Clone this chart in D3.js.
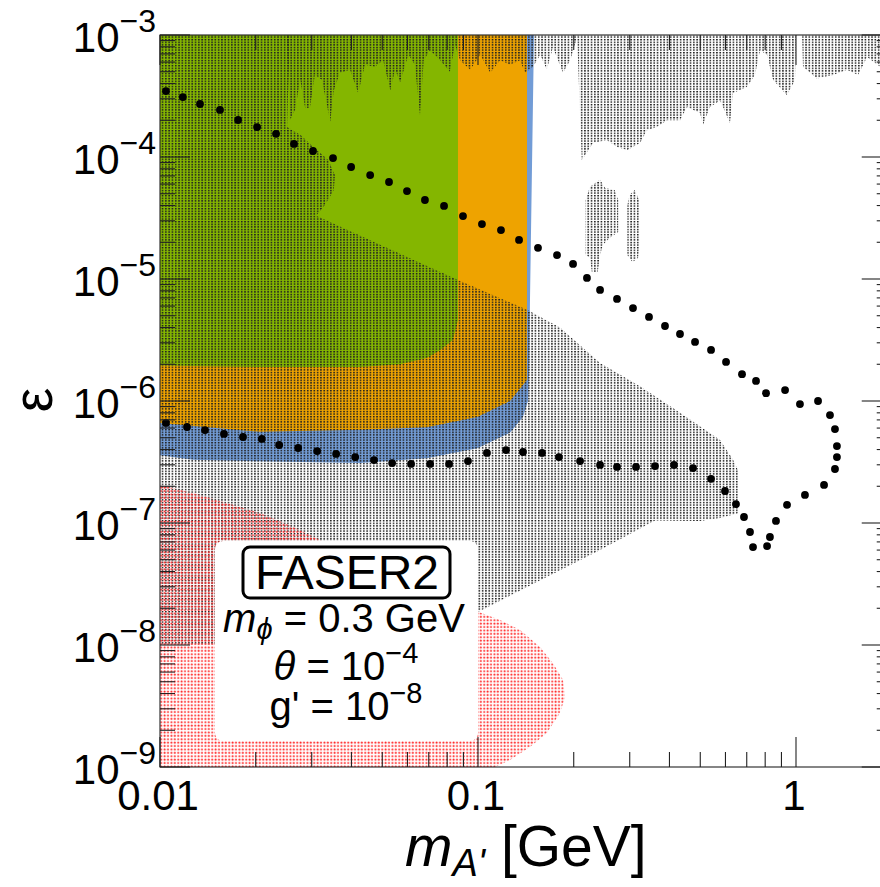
<!doctype html>
<html>
<head>
<script src="https://d3js.org/d3.v7.min.js"></script>
<style>
  body { margin: 0; background: #fff; }
  svg { font-family: "Liberation Sans", Arial, Helvetica, sans-serif; }
</style>
</head>
<body>
<svg id="chart" width="880" height="887"></svg>
<script>
// axis ranges
var massDomain = [0.01, 2];      // m_A' [GeV]
var epsDomain = [1e-9, 1e-3];    // epsilon
var xLabelTicks = [0.01, 0.1, 1];
var xLabelText = ["0.01", "0.1", "1"];
var yLabelTicks = [1e-3, 1e-4, 1e-5, 1e-6, 1e-7, 1e-8, 1e-9];
var yLabelExp = ["\u22123", "\u22124", "\u22125", "\u22126", "\u22127", "\u22128", "\u22129"];

// filled exclusion regions, [mass, epsilon]
var blueRegion = [[0.01,1e-3],[0.150,1e-3],[0.1457,6.7e-6],[0.145,1.9e-6],[0.1436,1.0e-6],[0.1385,7.4e-7],
  [0.126,5.5e-7],[0.0995,4.1e-7],[0.069,3.4e-7],[0.0426,3.1e-7],[0.0206,3.2e-7],[0.0127,3.3e-7],[0.01,3.6e-7]];
var orangeRegion = [[0.01,1e-3],[0.1426,1e-3],[0.1426,1.49e-6],[0.1385,1.35e-6],[0.126,1.0e-6],[0.0995,7.4e-7],
  [0.069,6.1e-7],[0.0426,5.8e-7],[0.0206,5.6e-7],[0.01,6.6e-7]];
var greenRegion = [[0.01,1e-3],[0.0865,1e-3],[0.0865,4.6e-6],[0.0834,3.16e-6],[0.076,2.6e-6],[0.069,2.25e-6],
  [0.0569,2.0e-6],[0.0426,1.9e-6],[0.0206,1.9e-6],[0.01,1.95e-6]];

// grey dotted region (main body, top band, two islands)
var greyMain = [[0.01,1e-3],[0.0256,1e-3],[0.0251,1.76e-4],[0.0276,1.52e-4],[0.0307,1.18e-4],[0.0338,9.45e-5],
  [0.0355,7.1e-5],[0.0352,5.37e-5],[0.033,4.04e-5],[0.031,3.3e-5],[0.0865,9.8e-6],[0.1426,5.6e-6],[0.181,4.0e-6],
  [0.242,2.05e-6],[0.323,1.32e-6],[0.432,8.0e-7],[0.577,4.8e-7],[0.634,3.3e-7],[0.657,2.7e-7],[0.657,1.2e-7],
  [0.577,1.1e-7],[0.499,1.04e-7],[0.379,1.05e-7],[0.36,1.05e-7],[0.242,6.0e-8],[0.157,3.4e-8],[0.1015,1.9e-8],
  [0.098,1.85e-8],[0.0147,1.0e-8],[0.01,1.0e-8]];
var greyTop = [[0.0251,1e-3],[0.0256,2.0e-4],[0.0266,2.43e-4],[0.0276,4.3e-4],[0.0286,2.52e-4],[0.0296,2.52e-4],
  [0.0307,4.7e-4],[0.0323,4.3e-4],[0.0343,1.94e-4],[0.0352,3.5e-4],[0.0368,4.9e-4],[0.0396,5.2e-4],[0.042,3.35e-4],
  [0.0441,5.7e-4],[0.0474,5.5e-4],[0.0503,6.2e-4],[0.053,3.5e-4],[0.0549,5.2e-4],[0.0569,4.1e-4],[0.0604,6.9e-4],
  [0.0633,5.7e-4],[0.0657,2.2e-4],[0.0675,6.2e-4],[0.0707,7.5e-4],[0.076,6.2e-4],[0.0816,5.0e-4],[0.0846,8.3e-4],
  [0.0878,6.2e-4],[0.0945,5.2e-4],[0.1015,6.9e-4],[0.1093,4.9e-4],[0.1173,6.2e-4],[0.126,5.7e-4],[0.1356,6.2e-4],
  [0.1405,4.9e-4],[0.149,5.5e-4],[0.157,6.9e-4],[0.1646,5.2e-4],[0.172,7.9e-4],[0.185,4.9e-4],[0.195,6.2e-4],
  [0.205,9.6e-4],[0.212,9.45e-5],[0.23,1.3e-4],[0.254,1.38e-4],[0.274,1.21e-4],[0.295,1.14e-4],[0.323,1.3e-4],
  [0.34,1.66e-4],[0.365,1.76e-4],[0.393,2.0e-4],[0.432,2.0e-4],[0.454,2.57e-4],[0.499,2.29e-4],[0.51,1.83e-4],
  [0.536,2.57e-4],[0.577,2.9e-4],[0.62,1.9e-4],[0.634,3.35e-4],[0.70,3.75e-4],[0.743,4.7e-4],[0.771,7.5e-4],
  [0.811,6.9e-4],[0.847,4.3e-4],[0.937,3.2e-4],[0.993,4.3e-4],[1.0,1e-3],[1.045,1e-3],[1.052,5.5e-4],
  [1.164,4.4e-4],[1.307,4.7e-4],[1.447,5.2e-4],[1.567,4.7e-4],[1.673,6.6e-4],[1.84,5.5e-4],[2,5.5e-4],[2,1e-3]];
var greyIsland1 = [[0.225,5.7e-5],[0.242,6.5e-5],[0.251,5.57e-5],[0.269,5.37e-5],[0.276,4.44e-5],[0.276,2.43e-5],
  [0.259,2.17e-5],[0.247,1.9e-5],[0.242,1.57e-5],[0.238,1.14e-5],[0.228,1.14e-5],[0.225,1.49e-5],[0.218,1.57e-5],[0.218,4.44e-5]];
var greyIsland2 = [[0.300,4.9e-5],[0.311,5.37e-5],[0.321,4.44e-5],[0.323,2.1e-5],[0.319,1.49e-5],[0.306,1.38e-5],
  [0.295,1.57e-5],[0.295,4.04e-5]];

// red dotted region
var redRegion = [[0.01,2.05e-7],[0.0127,1.76e-7],[0.0162,1.46e-7],[0.0206,1.21e-7],[0.0262,9.3e-8],[0.0343,6.6e-8],
  [0.0569,4.1e-8],[0.0816,2.6e-8],[0.1015,1.85e-8],[0.1173,1.6e-8],[0.1356,1.33e-8],[0.157,9.6e-9],[0.172,7.1e-9],
  [0.185,5.2e-9],[0.188,3.75e-9],[0.181,2.77e-9],[0.1646,1.9e-9],[0.1457,1.46e-9],[0.126,1.14e-9],[0.1131,1e-9],[0.01,1e-9]];

// sensitivity contour (dotted marker line)
var sensDots = [[0.01044,3.47e-4],[0.0118,3.10e-4],[0.01336,2.72e-4],[0.01544,2.43e-4],[0.0176,2.01e-4],
  [0.0202,1.76e-4],[0.02317,1.55e-4],[0.02638,1.28e-4],[0.03028,1.12e-4],[0.035,9.8e-5],[0.0399,8.28e-5],
  [0.0458,7.11e-5],[0.0525,6.24e-5],[0.0598,5.26e-5],[0.0681,4.44e-5],[0.0782,3.97e-5],[0.0897,3.28e-5],
  [0.1029,2.82e-5],[0.1181,2.52e-5],[0.1346,2.09e-5],[0.1544,1.80e-5],[0.1772,1.57e-5],[0.199,1.33e-5],
  [0.2201,1.02e-5],[0.242,8.13e-6],[0.2736,6.86e-6],[0.3072,5.78e-6],[0.3449,4.89e-6],[0.3873,4.12e-6],
  [0.4317,3.54e-6],[0.4814,3.05e-6],[0.5405,2.62e-6],[0.6025,2.09e-6],[0.6764,1.66e-6],[0.7486,1.46e-6],
  [0.8048,1.16e-6],[0.9239,1.23e-6],[1.029,9.44e-7],[1.173,1.0e-6],[1.279,7.67e-7],[1.326,5.89e-7],
  [1.345,4.27e-7],[1.345,3.47e-7],[1.326,2.77e-7],[1.225,2.05e-7],[1.067,1.70e-7],[0.937,1.41e-7],
  [0.865,1.04e-7],[0.828,7.68e-8],[0.811,6.47e-8],[0.7325,6.35e-8],[0.7167,8.44e-8],[0.6862,1.12e-7],
  [0.6475,1.43e-7],[0.598,1.83e-7],[0.5405,2.30e-7],[0.4745,2.82e-7],[0.4134,2.99e-7],[0.3603,2.93e-7],
  [0.314,2.88e-7],[0.2736,2.88e-7],[0.242,2.99e-7],[0.2094,3.22e-7],[0.1797,3.47e-7],[0.159,3.75e-7],
  [0.1385,3.82e-7],[0.1225,3.96e-7],[0.1067,3.75e-7],[0.093,3.22e-7],[0.0811,3.05e-7],[0.0707,3.05e-7],
  [0.0616,3.05e-7],[0.0537,3.10e-7],[0.0471,3.28e-7],[0.0411,3.47e-7],[0.0358,3.68e-7],[0.0312,3.89e-7],
  [0.0272,4.12e-7],[0.0237,4.36e-7],[0.0209,4.89e-7],[0.01824,5.07e-7],[0.01589,5.37e-7],[0.01385,5.78e-7],
  [0.01216,6.12e-7],[0.01044,6.61e-7]];

var plotLeft = 160, plotTop = 35, plotBottom = 767, decade = 318;
var plotRight = plotLeft + decade * Math.log10(massDomain[1] / massDomain[0]);

var svg = d3.select("svg#chart");
var x = d3.scaleLog().domain(massDomain).range([plotLeft, plotRight]);
var y = d3.scaleLog().domain(epsDomain).range([plotBottom, plotTop]);

var defs = svg.append("defs");
defs.append("clipPath").attr("id", "plotClip")
  .append("rect").attr("x", plotLeft).attr("y", plotTop)
  .attr("width", plotRight - plotLeft).attr("height", plotBottom - plotTop);

var greyPat = defs.append("pattern").attr("id", "greyDots").attr("patternUnits", "userSpaceOnUse")
  .attr("width", 3.3).attr("height", 2.6);
greyPat.append("rect").attr("width", 1.7).attr("height", 1.4).attr("fill", "#222");

var redPat = defs.append("pattern").attr("id", "redDots").attr("patternUnits", "userSpaceOnUse")
  .attr("width", 3.4).attr("height", 3.4);
redPat.append("circle").attr("cx", 1.4).attr("cy", 1.4).attr("r", 1.0).attr("fill", "#ff2a2a");

var area = d3.line().x(d => x(d[0])).y(d => y(d[1]));
var plot = svg.append("g").attr("clip-path", "url(#plotClip)");

function region(pts, fill) {
  plot.append("path").attr("d", area(pts) + "Z").attr("fill", fill);
}

region(blueRegion, "#729cd6");
region(orangeRegion, "#eea300");
region(greenRegion, "#84b600");
[greyMain, greyTop, greyIsland1, greyIsland2].forEach(function(p) { region(p, "url(#greyDots)"); });
region(redRegion, "url(#redDots)");

// parameter box
var leg = svg.append("g");
leg.append("rect").attr("x", 215).attr("y", 541).attr("width", 263).attr("height", 200)
  .attr("rx", 8).attr("fill", "#fff");
leg.append("rect").attr("x", 243).attr("y", 547).attr("width", 207).attr("height", 51)
  .attr("rx", 7).attr("fill", "none").attr("stroke", "#000").attr("stroke-width", 3);
leg.append("text").attr("x", 347).attr("y", 589).attr("text-anchor", "middle")
  .attr("font-size", 48).text("FASER2");

var l1 = leg.append("text").attr("x", 344).attr("y", 632).attr("text-anchor", "middle").attr("font-size", 40);
l1.append("tspan").attr("font-style", "italic").text("m");
l1.append("tspan").attr("font-style", "italic").attr("font-size", 29).attr("dy", 7).text("\u03d5");
l1.append("tspan").attr("dy", -7).text(" = 0.3 GeV");

var l2 = leg.append("text").attr("x", 346).attr("y", 680).attr("text-anchor", "middle").attr("font-size", 40);
l2.append("tspan").attr("font-style", "italic").text("\u03b8");
l2.append("tspan").text(" = 10");
l2.append("tspan").attr("font-size", 29).attr("dy", -17).text("\u22124");

var l3 = leg.append("text").attr("x", 346).attr("y", 720).attr("text-anchor", "middle").attr("font-size", 40);
l3.append("tspan").text("g' = 10");
l3.append("tspan").attr("font-size", 29).attr("dy", -17).text("\u22128");

// sensitivity dots
plot.selectAll("circle.sens").data(sensDots).enter().append("circle")
  .attr("class", "sens")
  .attr("cx", d => x(d[0])).attr("cy", d => y(d[1])).attr("r", 3.9).attr("fill", "#000");

// frame and ticks
var axisG = svg.append("g").attr("stroke", "#222").attr("stroke-width", 1.1);
axisG.append("rect").attr("x", plotLeft).attr("y", plotTop)
  .attr("width", plotRight - plotLeft).attr("height", plotBottom - plotTop).attr("fill", "none");

function isMajor(v) { var l = Math.log10(v); return Math.abs(l - Math.round(l)) < 1e-6; }

x.ticks().forEach(function(t) {
  var len = isMajor(t) ? 30 : 15, px = x(t);
  axisG.append("line").attr("x1", px).attr("x2", px).attr("y1", plotBottom).attr("y2", plotBottom - len);
  axisG.append("line").attr("x1", px).attr("x2", px).attr("y1", plotTop).attr("y2", plotTop + len);
});
y.ticks().forEach(function(t) {
  var len = isMajor(t) ? 30 : 15, py = y(t);
  axisG.append("line").attr("x1", plotLeft).attr("x2", plotLeft + len).attr("y1", py).attr("y2", py);
  axisG.append("line").attr("x1", plotRight).attr("x2", plotRight - len).attr("y1", py).attr("y2", py);
});

// tick labels
svg.selectAll("text.xlab").data(xLabelTicks).enter().append("text")
  .attr("class", "xlab")
  .attr("x", d => x(d) - 2).attr("y", 810)
  .attr("text-anchor", "middle").attr("font-size", 42)
  .text((d, i) => xLabelText[i]);

yLabelTicks.forEach(function(t, i) {
  var tx = svg.append("text").attr("x", 156).attr("y", y(t) + 17)
    .attr("text-anchor", "end").attr("font-size", 42);
  tx.append("tspan").text("10");
  tx.append("tspan").attr("font-size", 32).attr("dy", -20).text(yLabelExp[i]);
});

// axis titles
var xt = svg.append("text").attr("x", 405).attr("y", 866).attr("font-size", 57);
xt.append("tspan").attr("font-style", "italic").text("m");
xt.append("tspan").attr("font-style", "italic").attr("font-size", 38).attr("dy", 10).text("A'");
xt.append("tspan").attr("dy", -10).text(" [GeV]");

svg.append("text").attr("transform", "translate(52,400) rotate(-90)")
  .attr("text-anchor", "middle").attr("font-size", 55).text("\u03b5");
</script>
</body>
</html>
